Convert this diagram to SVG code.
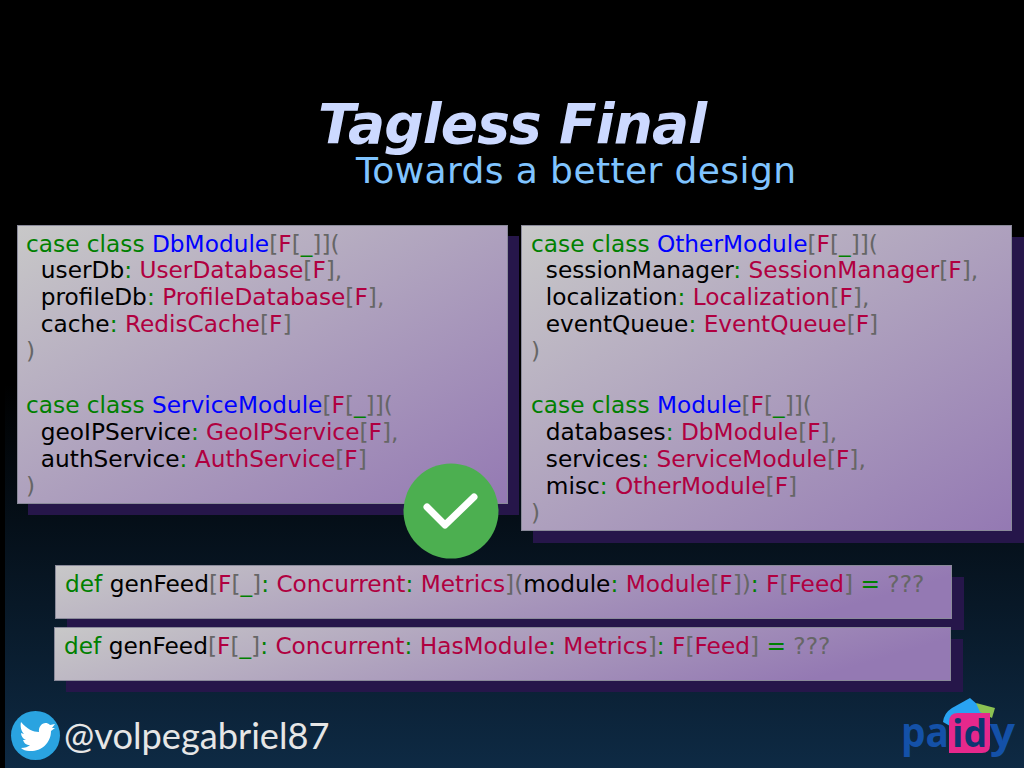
<svg xmlns="http://www.w3.org/2000/svg" width="1024" height="768" viewBox="0 0 1024 768">
<style>
text{font-family:"DejaVu Sans",sans-serif;white-space:pre}
.c{font-size:23.25px;fill:#000}
.k{fill:#008000}.n{fill:#0000ff}.t{fill:#b00040}.p{fill:#666}
.sh{fill:#26164a}
.box{stroke:#8a8a9a;stroke-width:1}
</style>
<defs>
<linearGradient id="bg" x1="0" y1="0" x2="0" y2="1"><stop offset="0.5" stop-color="#000"/><stop offset="1" stop-color="#0e2a44"/></linearGradient>
<linearGradient id="g1" x1="0" y1="0" x2="1" y2="1"><stop offset="0" stop-color="#c8c8c8"/><stop offset="1" stop-color="#9479b3"/></linearGradient>
<linearGradient id="g2" x1="0" y1="0" x2="1" y2="0.2"><stop offset="0" stop-color="#c8c8c8"/><stop offset="1" stop-color="#9479b3"/></linearGradient>
</defs>
<rect width="1024" height="768" fill="#000"/>
<rect x="5" y="0" width="1019" height="768" fill="url(#bg)"/>
<g id="title"><text x="318" y="143" font-size="55" font-weight="bold" font-style="oblique" letter-spacing="-0.9" fill="#ccd9ff">Tagless Final</text>
<text x="356" y="183" font-size="36" letter-spacing="0.4" fill="#80c4ff">Towards a better design</text></g>
<rect class="sh" x="28" y="236" width="491" height="279"/>
<rect class="sh" x="533" y="237" width="491" height="306"/>
<rect class="sh" x="67" y="577" width="897" height="53"/>
<rect class="sh" x="66" y="639" width="897" height="53"/>
<g id="db-box">
<rect class="box" x="17.500" y="225.500" width="490" height="278" fill="url(#g1)"/>
<text class="c" x="26" y="251.500"><tspan class="k">case class</tspan> <tspan class="n">DbModule</tspan><tspan class="p">[</tspan><tspan class="t">F</tspan><tspan class="p">[</tspan><tspan class="k">_</tspan><tspan class="p">]](</tspan></text>
<text class="c" x="26" y="278">  userDb<tspan class="k">:</tspan> <tspan class="t">UserDatabase</tspan><tspan class="p">[</tspan><tspan class="t">F</tspan><tspan class="p">],</tspan></text>
<text class="c" x="26" y="305">  profileDb<tspan class="k">:</tspan> <tspan class="t">ProfileDatabase</tspan><tspan class="p">[</tspan><tspan class="t">F</tspan><tspan class="p">],</tspan></text>
<text class="c" x="26" y="332">  cache<tspan class="k">:</tspan> <tspan class="t">RedisCache</tspan><tspan class="p">[</tspan><tspan class="t">F</tspan><tspan class="p">]</tspan></text>
<text class="c p" x="26" y="359">)</text>
<text class="c" x="26" y="413"><tspan class="k">case class</tspan> <tspan class="n">ServiceModule</tspan><tspan class="p">[</tspan><tspan class="t">F</tspan><tspan class="p">[</tspan><tspan class="k">_</tspan><tspan class="p">]](</tspan></text>
<text class="c" x="26" y="440">  geoIPService<tspan class="k">:</tspan> <tspan class="t">GeoIPService</tspan><tspan class="p">[</tspan><tspan class="t">F</tspan><tspan class="p">],</tspan></text>
<text class="c" x="26" y="467">  authService<tspan class="k">:</tspan> <tspan class="t">AuthService</tspan><tspan class="p">[</tspan><tspan class="t">F</tspan><tspan class="p">]</tspan></text>
<text class="c p" x="26" y="494">)</text>
</g>
<g id="other-box">
<rect class="box" x="521.500" y="225.500" width="490" height="305" fill="url(#g1)"/>
<text class="c" x="531" y="251.500"><tspan class="k">case class</tspan> <tspan class="n">OtherModule</tspan><tspan class="p">[</tspan><tspan class="t">F</tspan><tspan class="p">[</tspan><tspan class="k">_</tspan><tspan class="p">]](</tspan></text>
<text class="c" x="531" y="278">  sessionManager<tspan class="k">:</tspan> <tspan class="t">SessionManager</tspan><tspan class="p">[</tspan><tspan class="t">F</tspan><tspan class="p">],</tspan></text>
<text class="c" x="531" y="305">  localization<tspan class="k">:</tspan> <tspan class="t">Localization</tspan><tspan class="p">[</tspan><tspan class="t">F</tspan><tspan class="p">],</tspan></text>
<text class="c" x="531" y="332">  eventQueue<tspan class="k">:</tspan> <tspan class="t">EventQueue</tspan><tspan class="p">[</tspan><tspan class="t">F</tspan><tspan class="p">]</tspan></text>
<text class="c p" x="531" y="359">)</text>
<text class="c" x="531" y="413"><tspan class="k">case class</tspan> <tspan class="n">Module</tspan><tspan class="p">[</tspan><tspan class="t">F</tspan><tspan class="p">[</tspan><tspan class="k">_</tspan><tspan class="p">]](</tspan></text>
<text class="c" x="531" y="440">  databases<tspan class="k">:</tspan> <tspan class="t">DbModule</tspan><tspan class="p">[</tspan><tspan class="t">F</tspan><tspan class="p">],</tspan></text>
<text class="c" x="531" y="467">  services<tspan class="k">:</tspan> <tspan class="t">ServiceModule</tspan><tspan class="p">[</tspan><tspan class="t">F</tspan><tspan class="p">],</tspan></text>
<text class="c" x="531" y="494">  misc<tspan class="k">:</tspan> <tspan class="t">OtherModule</tspan><tspan class="p">[</tspan><tspan class="t">F</tspan><tspan class="p">]</tspan></text>
<text class="c p" x="531" y="521">)</text>
</g>
<g id="check"><circle cx="451" cy="511" r="47.500" fill="#4caf50"/><path d="M427 507L445 525L474 497" fill="none" stroke="#fff" stroke-width="7" stroke-linecap="round" stroke-linejoin="round"/></g>
<g id="def1">
<rect class="box" x="55.500" y="565.500" width="896" height="53" fill="url(#g2)"/>
<text class="c" x="65" y="592"><tspan class="k">def</tspan> genFeed<tspan class="p">[</tspan><tspan class="t">F</tspan><tspan class="p">[</tspan><tspan class="k">_</tspan><tspan class="p">]</tspan><tspan class="k">:</tspan> <tspan class="t">Concurrent</tspan><tspan class="k">:</tspan> <tspan class="t">Metrics</tspan><tspan class="p">](</tspan>module<tspan class="k">:</tspan> <tspan class="t">Module</tspan><tspan class="p">[</tspan><tspan class="t">F</tspan><tspan class="p">])</tspan><tspan class="k">:</tspan> <tspan class="t">F</tspan><tspan class="p">[</tspan><tspan class="t">Feed</tspan><tspan class="p">]</tspan> <tspan class="k">=</tspan> <tspan class="p">???</tspan></text>
</g>
<g id="def2">
<rect class="box" x="54.500" y="627.500" width="896" height="53" fill="url(#g2)"/>
<text class="c" x="64" y="654"><tspan class="k">def</tspan> genFeed<tspan class="p">[</tspan><tspan class="t">F</tspan><tspan class="p">[</tspan><tspan class="k">_</tspan><tspan class="p">]</tspan><tspan class="k">:</tspan> <tspan class="t">Concurrent</tspan><tspan class="k">:</tspan> <tspan class="t">HasModule</tspan><tspan class="k">:</tspan> <tspan class="t">Metrics</tspan><tspan class="p">]</tspan><tspan class="k">:</tspan> <tspan class="t">F</tspan><tspan class="p">[</tspan><tspan class="t">Feed</tspan><tspan class="p">]</tspan> <tspan class="k">=</tspan> <tspan class="p">???</tspan></text>
</g>
<g id="twitter">
<circle cx="35.500" cy="735.500" r="24.500" fill="#2aa3e0"/>
<path d="M21 722C27 729 33 732 39 732C38 725 45 720 50 725L55 724L52 728L55 728L51 731C51 744 40 752 29 751C26 751 23 750 21 748C25 748 28 747 30 745C26 745 24 743 23 740L26 740C23 739 21 736 21 733L24 734C21 731 20 726 21 722Z" fill="#fff"/>
<text x="64" y="749" font-size="36.200" style="font-family:Lato,sans-serif" fill="#e6e6e6">@volpegabriel87</text>
</g>
<g id="paidy">
<path d="M943 722Q944 713 952 708L970 698L987 713L950 726Z" fill="#29a3f2"/>
<path d="M976 703L995 708L992 718L980 712Z" fill="#8cc152"/>
<path d="M949 722Q949 713 958 713H990V745Q990 753 982 753H949Z" fill="#e6288c"/>
<text x="901" y="747" font-size="41" font-weight="bold" style="font-family:'Open Sans',sans-serif" fill="#1451a8" textLength="48" lengthAdjust="spacingAndGlyphs">pa</text>
<text x="952" y="747" font-size="38" font-weight="bold" style="font-family:'Open Sans',sans-serif" fill="#0d3570" textLength="35" lengthAdjust="spacingAndGlyphs">id</text>
<text x="990" y="747" font-size="41" font-weight="bold" style="font-family:'Open Sans',sans-serif" fill="#1451a8" textLength="25" lengthAdjust="spacingAndGlyphs">y</text>
</g>
</svg>
